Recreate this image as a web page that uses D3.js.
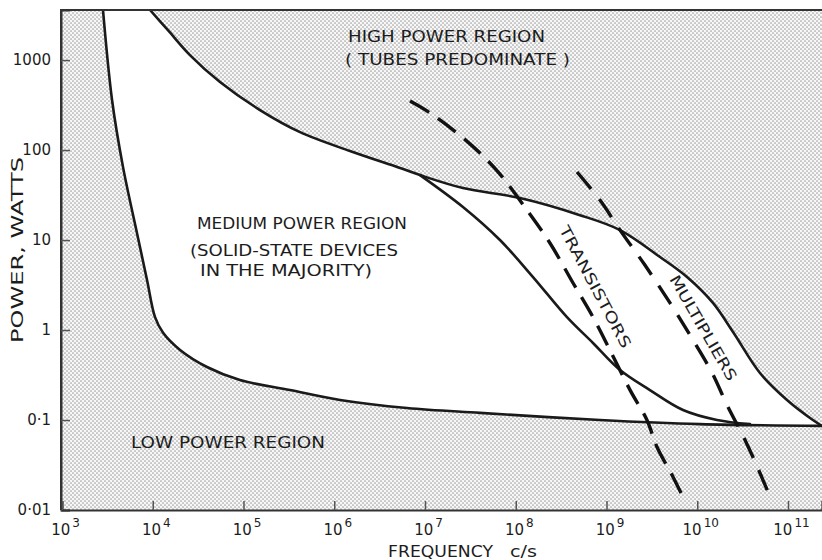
<!DOCTYPE html>
<html><head><meta charset="utf-8">
<script src="https://cdn.jsdelivr.net/npm/d3@7"></script>
<style>
html,body{margin:0;padding:0;background:#fff;}
svg{display:block;}
text{font-family:"DejaVu Sans","Liberation Sans",sans-serif;fill:#1c1c1c;}
</style></head>
<body>
<script>
// ---- Data (frequency c/s, power W) ----
const xTickValues = [1e3,1e4,1e5,1e6,1e7,1e8,1e9,1e10,1e11];
const xTickExponents = ["3","4","5","6","7","8","9","10","11"];
const yTickValues = [1000,100,10,1,0.1,0.01];
const yTickLabels = ["1000","100","10","1","0·1","0·01"];

// boundary of low power / left region (steep curve then flat toward 0.1 W)
const lowBoundary = [[2830,3600],[3560,360],[4700,65],[6700,12],[8650,3.6],[10600,1.39],[13000,0.93],[20000,0.6],[39600,0.388],[91400,0.278],[3.25e5,0.215],[1.16e6,0.167],[6.34e6,0.136],[4.04e7,0.12],[8.47e8,0.1],[1.07e10,0.09],[2.37e11,0.086]];
// boundary of high power region
const highBoundary = [[9330,3600],[14700,2150],[25700,1137],[55100,570],[1.52e5,278],[4.2e5,158],[1.49e6,97.5],[5.31e6,63.1],[8.81e6,52.7],[2.62e7,37.8],[1.11e8,29.3],[5.1e8,18.9],[1.41e9,12.9],[3.89e9,6.47],[7.71e9,3.88],[1.49e10,2.0],[2.48e10,0.95],[4.91e10,0.333],[9.75e10,0.167],[1.88e11,0.1],[2.37e11,0.086]];
// inner solid curve branching off
const innerCurve = [[8.81e6,52.7],[2.62e7,23.3],[6.7e7,10],[1.55e8,3.88],[3.67e8,1.39],[7.1e8,0.718],[1.41e9,0.359],[3.01e9,0.215],[6.97e9,0.129],[1.65e10,0.1],[3.81e10,0.09]];
// dashed limits
const transistorLimit = [[6.84e6,350],[1.14e7,258],[2.25e7,155],[4.04e7,92.6],[6.7e7,54.1],[1.33e8,21.5],[2.38e8,9.26],[4.28e8,3.33],[7.1e8,1.39],[1.09e9,0.6],[1.82e9,0.215],[2.79e9,0.1],[3.6e9,0.0501],[5.41e9,0.0233],[6.97e9,0.0139]];
const multiplierLimit = [[4.73e8,57],[8.47e8,27.8],[1.41e9,12.9],[2.65e9,5.27],[5.01e9,2.0],[8.98e9,0.774],[1.46e10,0.333],[2.13e10,0.147],[3.36e10,0.06],[4.91e10,0.0258],[6.03e10,0.0158]];

const W = 822, H = 560;
const L = 61, R = 822, T = 10, B = 510;

const svg = d3.select("body").append("svg").attr("width", W).attr("height", H);
const x = d3.scaleLog().domain([1e3, 2.37e11]).range([L + 1, R]);
const y = d3.scaleLog().domain([0.01, 3600]).range([B, T]);

const defs = svg.append("defs");
const pat = defs.append("pattern").attr("id","stip").attr("patternUnits","userSpaceOnUse")
  .attr("width",4).attr("height",4);
pat.append("rect").attr("width",4).attr("height",4).attr("fill","#f7f7f7");
pat.append("circle").attr("cx",1).attr("cy",1).attr("r",0.85).attr("fill","#a2a2a2");
pat.append("circle").attr("cx",3).attr("cy",3).attr("r",0.85).attr("fill","#a2a2a2");
defs.append("clipPath").attr("id","plotclip").append("rect")
  .attr("x",L).attr("y",T).attr("width",R-L).attr("height",B-T);

const g = svg.append("g").attr("clip-path","url(#plotclip)");
g.append("rect").attr("x",L).attr("y",T).attr("width",R-L).attr("height",B-T).attr("fill","url(#stip)");

const line = d3.line().x(d => x(d[0])).y(d => y(d[1])).curve(d3.curveCatmullRom.alpha(0.5));
const p1 = line(lowBoundary);
const p2 = line(highBoundary.slice().reverse());
g.append("path").attr("d", p1 + "L" + p2.slice(1) + "Z").attr("fill","#fff");

const solid = {fill:"none", stroke:"#1a1a1a", "stroke-width":2.6, "stroke-linejoin":"round", "stroke-linecap":"round"};
[lowBoundary, highBoundary, innerCurve].forEach(d => {
  const p = g.append("path").attr("d", line(d));
  Object.entries(solid).forEach(([k,v]) => p.attr(k,v));
});
[[transistorLimit,"22,11"],[multiplierLimit,"22,13"]].forEach(([d,da]) => {
  g.append("path").attr("d", line(d)).attr("fill","none").attr("stroke","#111")
   .attr("stroke-width",3.4).attr("stroke-dasharray",da);
});

// frame
svg.append("path").attr("d",`M${L},${B}V${T}H${R}`).attr("fill","none").attr("stroke","#333").attr("stroke-width",2);

// axes
const yAxis = d3.axisLeft(y).tickValues(yTickValues).tickSize(-9).tickPadding(10)
  .tickFormat((d,i) => yTickLabels[i]);
const ya = svg.append("g").attr("transform",`translate(${L},0)`).call(yAxis);
ya.select(".domain").attr("stroke","#333").attr("stroke-width",2);
ya.selectAll(".tick line").attr("stroke","#555").attr("stroke-width",1.5);
ya.selectAll(".tick text").attr("font-size",15).attr("font-family","DejaVu Sans").attr("fill","#1c1c1c");

const xAxis = d3.axisBottom(x).tickValues(xTickValues).tickSize(-9).tickFormat(() => "");
const xa = svg.append("g").attr("transform",`translate(0,${B})`).call(xAxis);
xa.select(".domain").attr("stroke","#333").attr("stroke-width",2.2);
xa.selectAll(".tick line").attr("stroke","#555").attr("stroke-width",1.5);
xa.selectAll(".tick text").each(function(d,i){
  const t = d3.select(this).attr("dy",null).attr("y",25).attr("x",3)
    .attr("font-size",15).attr("font-family","DejaVu Sans").attr("fill","#1c1c1c");
  t.append("tspan").text("10");
  t.append("tspan").attr("dy",-8).attr("dx",2).attr("font-size",12).text(xTickExponents[i]);
});

// labels
const labels = [
  {t:"HIGH POWER REGION", x:348, y:42, len:197},
  {t:"( TUBES PREDOMINATE )", x:345, y:65, len:225},
  {t:"MEDIUM POWER REGION", x:197, y:229, len:210},
  {t:"(SOLID-STATE DEVICES", x:190, y:256, len:208},
  {t:"IN THE MAJORITY)", x:200, y:276, len:172},
  {t:"LOW POWER REGION", x:131, y:448, len:194},
  {t:"FREQUENCY", x:388, y:557, len:105},
  {t:"c/s", x:510, y:557, len:27}
];
labels.forEach(l => {
  svg.append("text").attr("x",l.x).attr("y",l.y).attr("font-size",15)
    .attr("textLength",l.len).attr("lengthAdjust","spacingAndGlyphs").text(l.t);
});
svg.append("text").attr("transform","translate(23,250) rotate(-90)").attr("text-anchor","middle")
  .attr("font-size",15).attr("textLength",186).attr("lengthAdjust","spacingAndGlyphs").text("POWER,  WATTS");
svg.append("text").attr("transform","translate(595,287) rotate(62)").attr("text-anchor","middle")
  .attr("dominant-baseline","central").attr("font-size",15).attr("textLength",136)
  .attr("lengthAdjust","spacingAndGlyphs").text("TRANSISTORS");
svg.append("text").attr("transform","translate(703,328) rotate(60)").attr("text-anchor","middle")
  .attr("dominant-baseline","central").attr("font-size",15).attr("textLength",119)
  .attr("lengthAdjust","spacingAndGlyphs").text("MULTIPLIERS");
</script>
</body></html>
